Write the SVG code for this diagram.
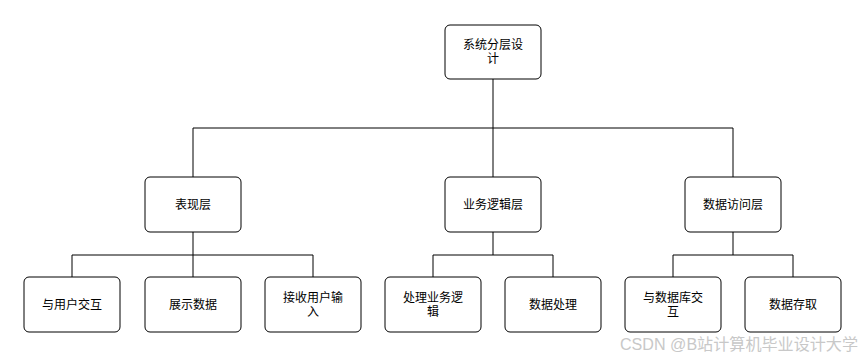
<svg xmlns="http://www.w3.org/2000/svg" width="866" height="357" viewBox="0 0 866 357">
<style>
.box{fill:#fff;stroke:#000;stroke-width:1}
.t{font-family:"Liberation Sans","Noto Sans CJK SC",sans-serif;font-size:12px;fill:#000;text-anchor:middle;dominant-baseline:central}
.c{fill:none;stroke:#000;stroke-width:1}
.wm{font-family:"Liberation Sans","Noto Sans CJK SC",sans-serif;font-size:16px;fill:#c8c8c8}
</style>
<rect width="866" height="357" fill="#fff"/>
<g id="connectors">
<path class="c" d="M493 79V128M193 128H733M193 128V177M493 128V177M733 128V177"/>
<path class="c" d="M193 232V255M72 255H313M72 255V277M193 255V277M313 255V277"/>
<path class="c" d="M493 232V255M433 255H553M433 255V277M553 255V277"/>
<path class="c" d="M733 232V255M673 255H793M673 255V277M793 255V277"/>
</g>
<g id="root"><rect class="box" x="445" y="25" width="96" height="54" rx="5"/><text class="t" x="493" y="45">系统分层设</text><text class="t" x="493" y="59">计</text></g>
<g id="presentation"><rect class="box" x="145" y="177" width="96" height="55" rx="5"/><text class="t" x="193" y="204.5">表现层</text></g>
<g id="business"><rect class="box" x="445" y="177" width="96" height="55" rx="5"/><text class="t" x="493" y="204.5">业务逻辑层</text></g>
<g id="dataaccess"><rect class="box" x="685" y="177" width="96" height="55" rx="5"/><text class="t" x="733" y="204.5">数据访问层</text></g>
<g id="leaf1"><rect class="box" x="24" y="277" width="96" height="55" rx="5"/><text class="t" x="72" y="304.5">与用户交互</text></g>
<g id="leaf2"><rect class="box" x="145" y="277" width="96" height="55" rx="5"/><text class="t" x="193" y="304.5">展示数据</text></g>
<g id="leaf3"><rect class="box" x="265" y="277" width="96" height="55" rx="5"/><text class="t" x="313" y="297.5">接收用户输</text><text class="t" x="313" y="311.5">入</text></g>
<g id="leaf4"><rect class="box" x="385" y="277" width="96" height="55" rx="5"/><text class="t" x="433" y="297.5">处理业务逻</text><text class="t" x="433" y="311.5">辑</text></g>
<g id="leaf5"><rect class="box" x="505" y="277" width="96" height="55" rx="5"/><text class="t" x="553" y="304.5">数据处理</text></g>
<g id="leaf6"><rect class="box" x="625" y="277" width="96" height="55" rx="5"/><text class="t" x="673" y="297.5">与数据库交</text><text class="t" x="673" y="311.5">互</text></g>
<g id="leaf7"><rect class="box" x="745" y="277" width="96" height="55" rx="5"/><text class="t" x="793" y="304.5">数据存取</text></g>
<text class="wm" x="620" y="350" textLength="238" lengthAdjust="spacingAndGlyphs">CSDN @B站计算机毕业设计大学</text>
</svg>
